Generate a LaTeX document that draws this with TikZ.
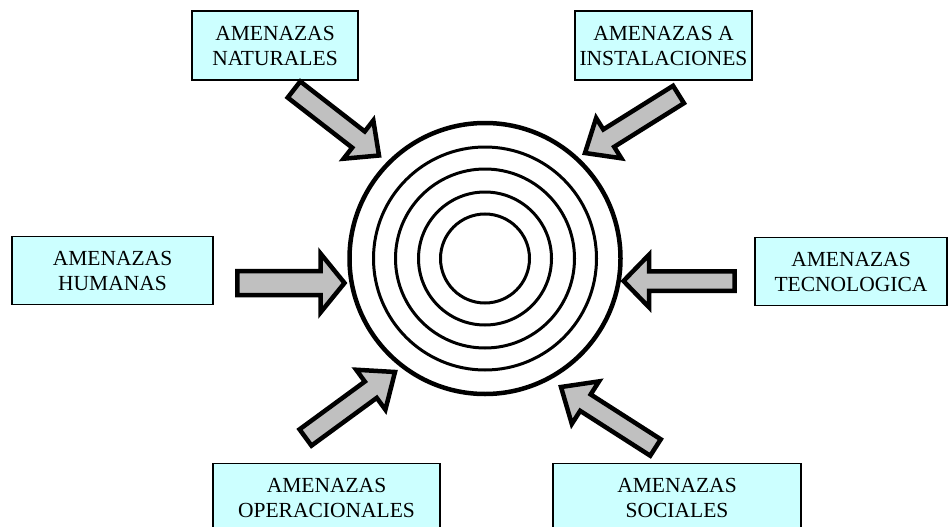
\documentclass[tikz,border=0pt]{standalone}
\usepackage{fontspec}
\setmainfont{Liberation Serif}
\usetikzlibrary{calc}
\definecolor{boxfill}{RGB}{204,255,255}
\definecolor{arrfill}{RGB}{192,192,192}
% #1 name, #2 tail, #3 tip, #4 shaft half width, #5 head half width, #6 head length
\newcommand{\blockarr}[6]{%
  \coordinate (#1-t) at #2;
  \coordinate (#1-h) at #3;
  \coordinate (#1-b) at ($(#1-h)!#6!(#1-t)$);
  \draw[barrow] ($(#1-t)!#4!90:(#1-h)$) -- ($(#1-b)!#4!90:(#1-h)$) -- ($(#1-b)!#5!90:(#1-h)$)
    -- (#1-h) -- ($(#1-b)!#5!-90:(#1-h)$) -- ($(#1-b)!#4!-90:(#1-h)$) -- ($(#1-t)!#4!-90:(#1-h)$) -- cycle;
}
\begin{document}
\begin{tikzpicture}[x=1pt,y=-1pt,
  box/.style={draw, line width=1.2pt, fill=boxfill, align=center, inner sep=0pt,
    font=\fontsize{21.5}{25}\selectfont},
  barrow/.style={draw, line width=4.5pt, fill=arrfill, line join=miter},
  ring/.style={circle, draw, line width=3pt, inner sep=0pt},
  outerring/.style={circle, draw, line width=4.5pt, inner sep=0pt}]
\clip (0,0) rectangle (948,527);
\fill[white] (0,0) rectangle (948,527);

% boxes
\node[box, minimum width=166pt, minimum height=69pt] (nat) at (275,45.5) {AMENAZAS\\NATURALES};
\node[box, minimum width=177pt, minimum height=69pt] (ins) at (663.5,45.5) {AMENAZAS A\\INSTALACIONES};
\node[box, minimum width=201pt, minimum height=68pt] (hum) at (112.5,270.5) {AMENAZAS\\HUMANAS};
\node[box, minimum width=192pt, minimum height=68pt] (tec) at (851,271.5) {AMENAZAS\\TECNOLOGICA};
\node[box, minimum width=227pt, minimum height=69pt] (ope) at (326.5,498) {AMENAZAS\\OPERACIONALES};
\node[box, minimum width=248pt, minimum height=69pt] (soc) at (677,498) {AMENAZAS\\SOCIALES};

% concentric rings
\node[outerring, minimum size=271pt] (c1) at (485,258.5) {};
\node[ring, minimum size=223pt] (c2) at (485,258.5) {};
\node[ring, minimum size=179pt] (c3) at (485,258.5) {};
\node[ring, minimum size=133pt] (c4) at (485,258.5) {};
\node[ring, minimum size=89pt] (c5) at (485,258.5) {};

% block arrows
\blockarr{a1}{(294,89.5)}{(379,155.5)}{10.25pt}{24.25pt}{26pt}
\blockarr{a2}{(678.5,94.5)}{(585,153)}{10.25pt}{23.75pt}{28pt}
\blockarr{a3}{(237.25,283)}{(344.5,283)}{12pt}{29.5pt}{24pt}
\blockarr{a4}{(734.5,281)}{(623.5,281)}{9.75pt}{26.25pt}{25.5pt}
\blockarr{a5}{(305.5,437.5)}{(395,372)}{10.1pt}{24.75pt}{30pt}
\blockarr{a6}{(655.5,447.5)}{(561,387)}{9.75pt}{25.25pt}{29pt}
\end{tikzpicture}
\end{document}
